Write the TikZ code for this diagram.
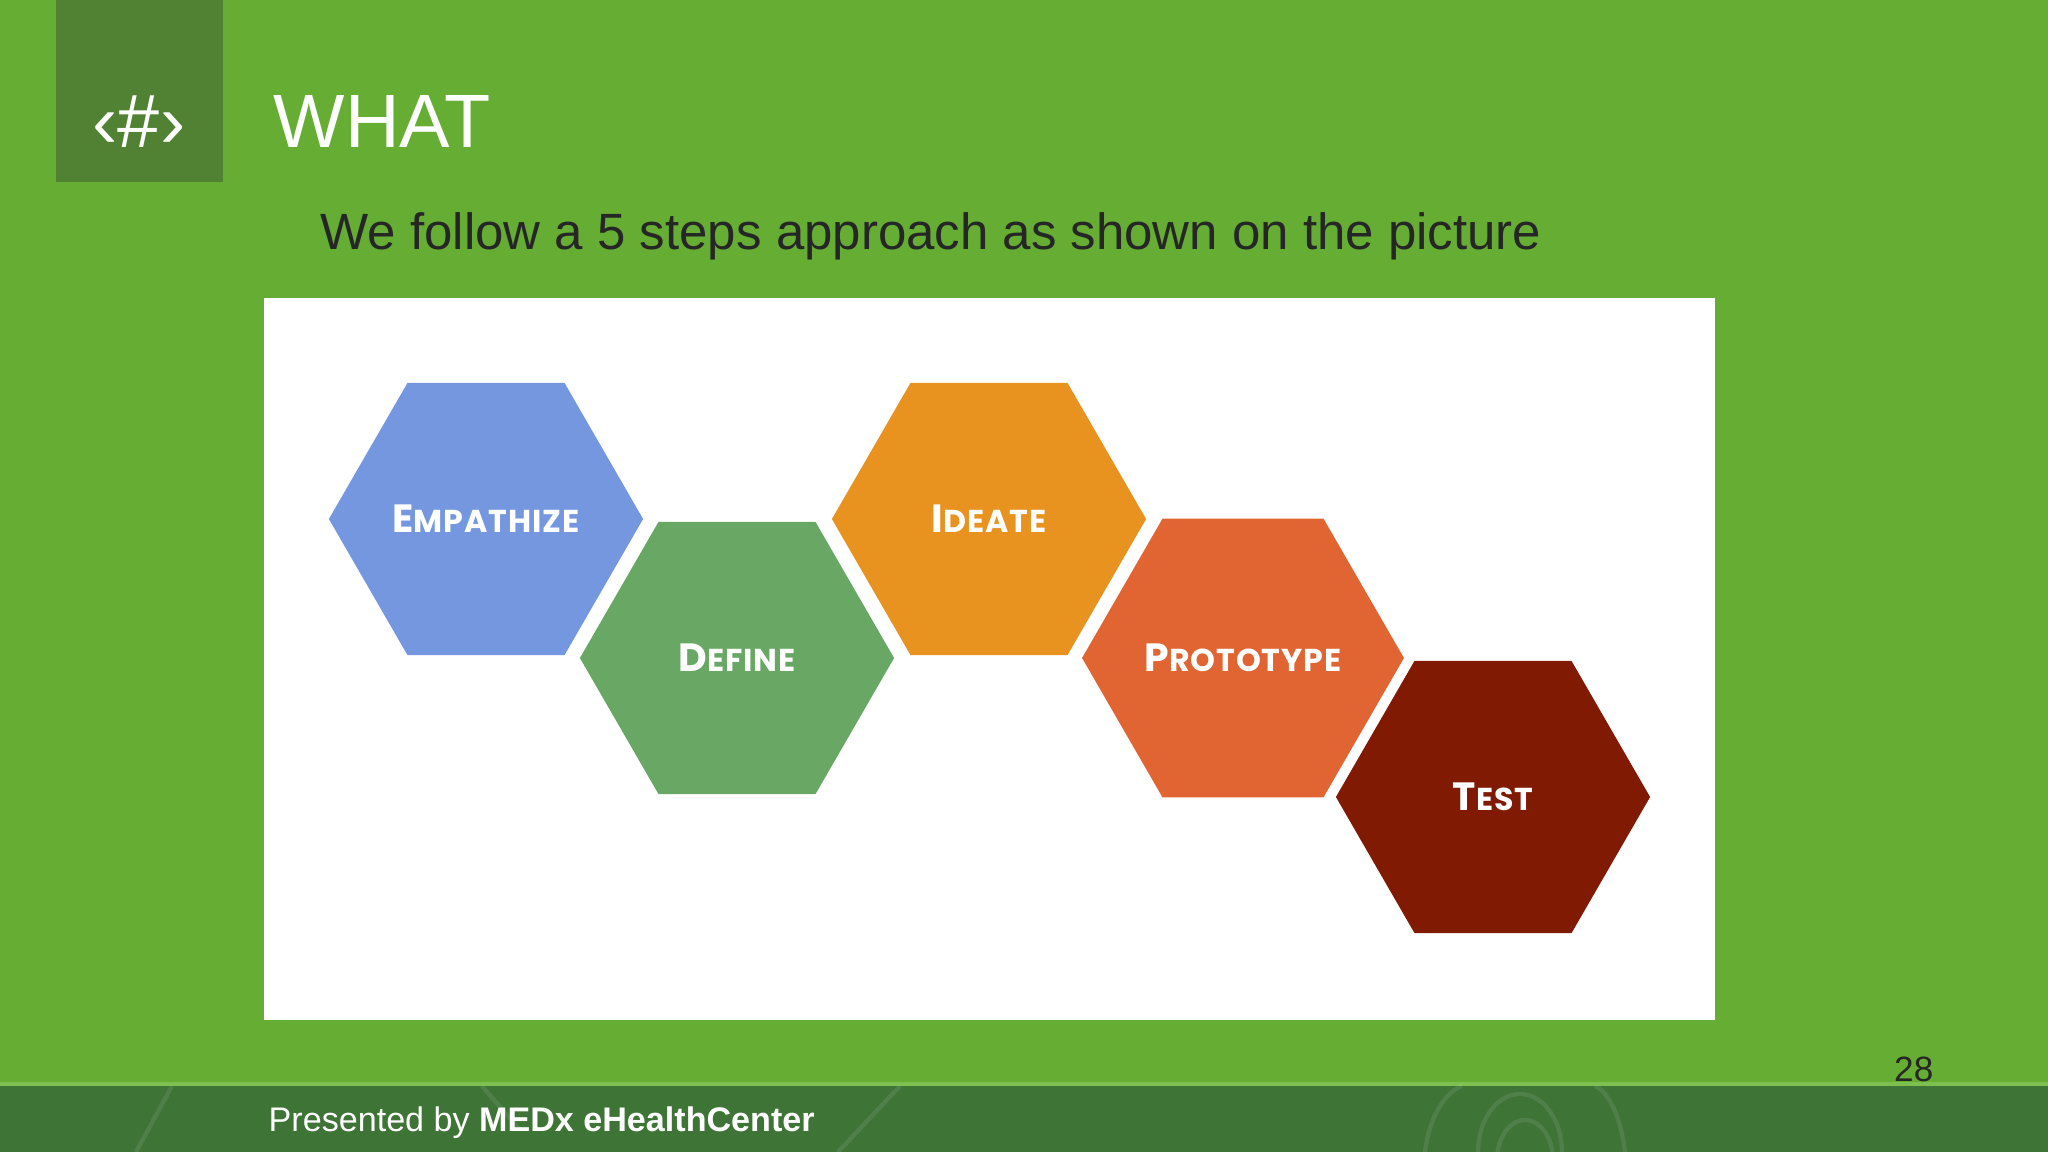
\documentclass[tikz,border=0pt]{standalone}
\usepackage{fontspec}
\setmainfont{Liberation Sans}
\newfontfamily\hexfont[LetterSpace=3]{Poppins}
\usetikzlibrary{shapes.geometric}
\definecolor{bggreen}{RGB}{102,173,51}
\definecolor{sqgreen}{RGB}{81,130,52}
\definecolor{footgreen}{RGB}{63,116,55}
\definecolor{footline}{RGB}{125,192,80}
\definecolor{subgray}{RGB}{38,38,38}
\definecolor{hexblue}{RGB}{116,151,224}
\definecolor{hexgreen}{RGB}{105,168,100}
\definecolor{hexorange}{RGB}{232,147,31}
\definecolor{hexred}{RGB}{224,101,51}
\definecolor{hexdark}{RGB}{128,26,3}
\newcommand\sclbl[2]{{\fontsize{11.2}{11.2}\selectfont #1}{\fontsize{9}{9}\selectfont #2}}
\tikzset{
  hexbox/.style={regular polygon, regular polygon sides=6,
    minimum size=3.14cm, inner sep=0pt, outer sep=0pt, draw=none, text=white,
    font=\hexfont\bfseries},
  deco/.style={draw=white, draw opacity=0.09, line width=1.2pt}
}
\begin{document}
\begin{tikzpicture}[x=0.01cm,y=-0.01cm]
\useasboundingbox (0,0) rectangle (2048,1152);
% background
\fill[bggreen] (0,0) rectangle (2048,1152);
\fill[sqgreen] (56,0) rectangle (223,182);
% footer band
\fill[footgreen] (0,1084) rectangle (2048,1152);
\fill[footline] (0,1082) rectangle (2048,1086);
\draw[deco] (172,1086) -- (136,1152);
\draw[deco] (482,1086) -- (520,1130);
\draw[deco] (900,1086) -- (838,1152);
\draw[deco] (1425,1152) .. controls (1430,1110) and (1450,1090) .. (1462,1086);
\draw[deco] (1625,1152) .. controls (1620,1110) and (1605,1090) .. (1595,1086);
\draw[deco] (1520,1152) ellipse (42 and 58);
\draw[deco] (1525,1160) ellipse (28 and 40);
% title area
\node[text=white, font=\fontsize{21.5}{21.5}\selectfont, anchor=base] (num) at (139,148) {‹\#›};
\node[text=white, font=\fontsize{21.5}{21.5}\selectfont, anchor=base west, inner sep=0pt] (title) at (273,148) {WHAT};
\node[text=subgray, font=\fontsize{14.5}{14.5}\selectfont, anchor=base west, inner sep=0pt] (sub) at (320,250) {We follow a 5 steps approach as shown on the picture};
% white panel
\fill[white] (264,298) rectangle (1715,1020);
% hexagons
\node[hexbox, fill=hexblue] (emp) at (486,519) {\sclbl{E}{MPATHIZE}};
\node[hexbox, fill=hexgreen] (def) at (737,658) {\sclbl{D}{EFINE}};
\node[hexbox, fill=hexorange] (ide) at (989,519) {\sclbl{I}{DEATE}};
\node[hexbox, fill=hexred] (pro) at (1243,658) {\sclbl{P}{ROTOTYPE}};
\node[hexbox, fill=hexdark] (tst) at (1493,797) {\sclbl{T}{EST}};
% page number
\node[text=subgray, font=\fontsize{10}{10}\selectfont, anchor=base east, inner sep=0pt] (page) at (1934,1081) {28};
% footer text
\node[text=white, font=\fontsize{9.7}{9.7}\selectfont, anchor=base west, inner sep=0pt] (foot) at (268,1131) {Presented by \textbf{MEDx eHealthCenter}};
\end{tikzpicture}
\end{document}
